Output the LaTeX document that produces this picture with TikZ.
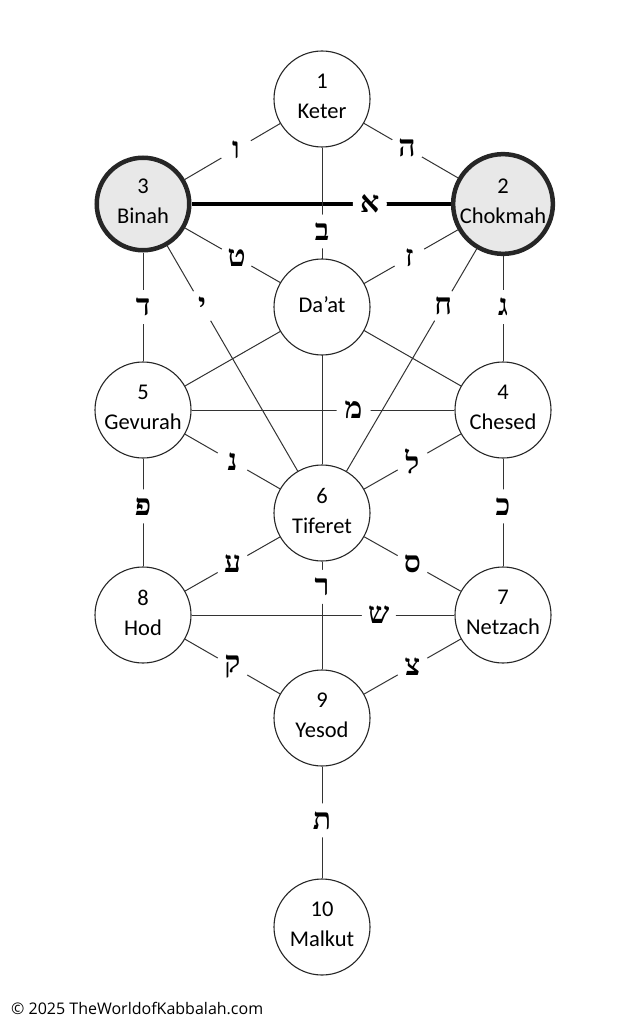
\documentclass[tikz,border=0pt]{standalone}
\usepackage{fontspec}
\setmainfont{Carlito}
\newfontfamily\hebfont[Script=Hebrew]{Liberation Serif}
\newfontfamily\footfont{Open Sans}
\TeXXeTstate=1
\usetikzlibrary{calc}
\pgfdeclarelayer{bg}
\pgfsetlayers{bg,main}
\begin{document}
\begin{tikzpicture}[x=1pt,y=-1pt,
  seph/.style={circle, draw=black!85, line width=1.1pt, fill=white,
    minimum size=96pt, inner sep=0pt, align=center, text depth=5pt,
    font=\fontsize{22.5}{30}\selectfont},
  sephbold/.style={seph, line width=4.5pt, fill=black!9, minimum size=92.5pt},
  conn/.style={draw=black!80, line width=1pt},
  connbold/.style={draw=black, line width=4pt},
  heb/.style={circle, fill=white, inner sep=0pt, minimum size=34pt,
    font=\hebfont\bfseries\fontsize{30}{30}\selectfont}]
\useasboundingbox (0,0) rectangle (633,1024);
% sephirot
\node[seph]     (keter)   at (322,99)  {1\\Keter};
\node[sephbold] (binah)   at (143,204) {3\\Binah};
\node[sephbold] (chokmah) at (503,204) {2\\Chokmah};
\node[seph]     (daat)    at (322,307) {Da’at};
\node[seph]     (gevurah) at (143,410) {5\\Gevurah};
\node[seph]     (chesed)  at (503,410) {4\\Chesed};
\node[seph]     (tiferet) at (322,513) {6\\Tiferet};
\node[seph]     (hod)     at (143,615) {8\\Hod};
\node[seph]     (netzach) at (503,615) {7\\Netzach};
\node[seph]     (yesod)   at (322,718) {9\\Yesod};
\node[seph]     (malkut)  at (322,927) {10\\Malkut};
% paths
\begin{pgfonlayer}{bg}
\draw[conn] (keter) -- (binah);
\draw[conn] (keter) -- (chokmah);
\draw[connbold] (binah) -- (chokmah);
\draw[conn] (keter) -- (tiferet);
\draw[conn] (binah) -- (chesed);
\draw[conn] (chokmah) -- (gevurah);
\draw[conn] (binah) -- (tiferet);
\draw[conn] (chokmah) -- (tiferet);
\draw[conn] (binah) -- (gevurah);
\draw[conn] (chokmah) -- (chesed);
\draw[conn] (gevurah) -- (chesed);
\draw[conn] (gevurah) -- (tiferet);
\draw[conn] (chesed) -- (tiferet);
\draw[conn] (gevurah) -- (hod);
\draw[conn] (chesed) -- (netzach);
\draw[conn] (tiferet) -- (hod);
\draw[conn] (tiferet) -- (netzach);
\draw[conn] (tiferet) -- (yesod);
\draw[conn] (hod) -- (netzach);
\draw[conn] (hod) -- (yesod);
\draw[conn] (netzach) -- (yesod);
\draw[conn] (yesod) -- (malkut);
\end{pgfonlayer}
% letters
\node[heb] (l1)  at ($(keter)!0.48!(binah)$)     {\beginR ו\endR};
\node[heb] (l2)  at ($(keter)!0.47!(chokmah)$)   {\beginR ה\endR};
\node[heb] (l3)  at ($(binah)!0.63!(chokmah)$)   {\beginR א\endR};
\node[heb] (l4)  at ($(keter)!0.32!(tiferet)$)   {\beginR ב\endR};
\node[heb] (l5)  at ($(binah)!0.26!(chesed)$)    {\beginR ט\endR};
\node[heb] (l6)  at ($(chokmah)!0.26!(gevurah)$) {\beginR ז\endR};
\node[heb] (l7)  at ($(binah)!0.33!(tiferet)$)   {\beginR י\endR};
\node[heb] (l8)  at ($(chokmah)!0.33!(tiferet)$) {\beginR ח\endR};
\node[heb] (l9)  at ($(binah)!0.5!(gevurah)$)    {\beginR ד\endR};
\node[heb] (l10) at ($(chokmah)!0.5!(chesed)$)   {\beginR ג\endR};
\node[heb] (l11) at ($(gevurah)!0.585!(chesed)$) {\beginR מ\endR};
\node[heb] (l12) at ($(gevurah)!0.5!(tiferet)$)  {\beginR נ\endR};
\node[heb] (l13) at ($(chesed)!0.5!(tiferet)$)   {\beginR ל\endR};
\node[heb] (l14) at ($(gevurah)!0.47!(hod)$)     {\beginR פ\endR};
\node[heb] (l15) at ($(chesed)!0.47!(netzach)$)  {\beginR כ\endR};
\node[heb] (l16) at ($(tiferet)!0.5!(hod)$)      {\beginR ע\endR};
\node[heb] (l17) at ($(tiferet)!0.5!(netzach)$)  {\beginR ס\endR};
\node[heb] (l18) at ($(tiferet)!0.36!(yesod)$)   {\beginR ר\endR};
\node[heb] (l19) at ($(hod)!0.655!(netzach)$)    {\beginR ש\endR};
\node[heb] (l20) at ($(hod)!0.5!(yesod)$)        {\beginR ק\endR};
\node[heb] (l21) at ($(netzach)!0.5!(yesod)$)    {\beginR צ\endR};
\node[heb] (l22) at ($(yesod)!0.49!(malkut)$)    {\beginR ת\endR};
% footer
\node[anchor=west, inner sep=0pt, font=\footfont\fontsize{16}{16}\selectfont]
  (copy) at (11,1008) {© 2025 TheWorldofKabbalah.com};
\end{tikzpicture}
\end{document}
